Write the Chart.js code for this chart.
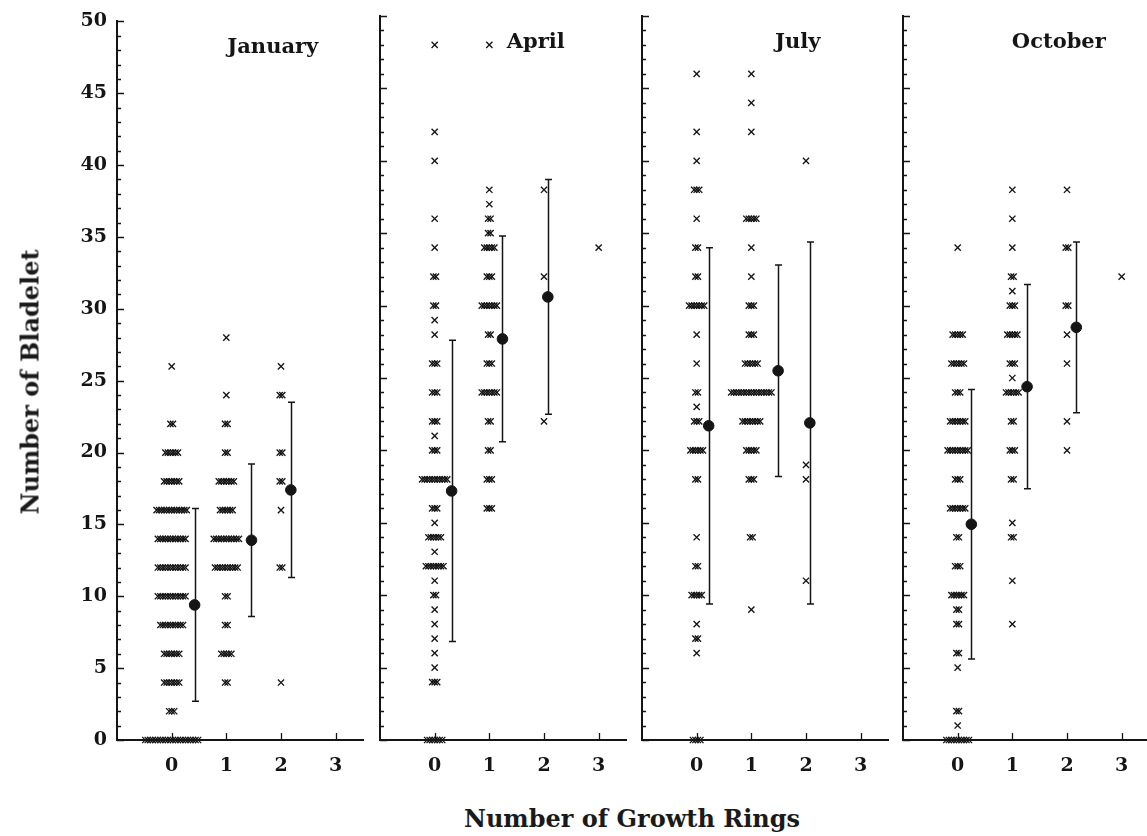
<!DOCTYPE html>
<html>
<head>
<meta charset="utf-8">
<script src="https://cdn.jsdelivr.net/npm/chart.js@4.4.0/dist/chart.umd.min.js"></script>
<style>
    html, body { margin: 0; padding: 0; background: #fff; overflow: hidden; }
    #fig { position: relative; width: 1147px; height: 836px; font-family: "DejaVu Serif", serif; font-weight: bold; color: #1a1a1a; }
    #fig canvas { position: absolute; top: 0; }
    .ytitle { position: absolute; left: 30px; top: 382px; transform: translate(-50%, -50%) rotate(-90deg); white-space: nowrap; font-size: 24px; }
    .xtitle { position: absolute; left: 632px; top: 818px; transform: translate(-50%, -50%); white-space: nowrap; font-size: 24px; }
</style>
</head>
<body>
<div id="fig">
    <canvas id="c0"></canvas>
    <canvas id="c1"></canvas>
    <canvas id="c2"></canvas>
    <canvas id="c3"></canvas>
    <div class="ytitle">Number of Bladelet</div>
    <div class="xtitle">Number of Growth Rings</div>
</div>
<script>
// Panels and ticks
const MONTHS = ["January", "April", "July", "October"];
const X_TICKS = [0, 1, 2, 3];
const Y_TICKS = [0, 5, 10, 15, 20, 25, 30, 35, 40, 45, 50];

// Rows per growth-ring group: [number of bladelets, number of specimens]
const janRing0 = [[26,1],[22,2],[20,6],[18,7],[16,13],[14,12],[12,12],[10,12],[8,10],[6,7],[4,7],[2,3],[0,22]];
const janRing1 = [[28,1],[24,1],[22,2],[20,2],[18,7],[16,6],[14,11],[12,10],[10,2],[8,2],[6,5],[4,2]];
const janRing2 = [[26,1],[24,2],[20,2],[18,2],[16,1],[12,2],[4,1]];
const janRing3 = [];

const aprRing0 = [[48,1],[42,1],[40,1],[36,1],[34,1],[32,2],[30,2],[29,1],[28,1],[26,3],[24,3],[22,3],[21,1],[20,3],[18,11],[16,3],[15,1],[14,6],[13,1],[12,8],[11,1],[10,2],[9,1],[8,1],[7,1],[6,1],[5,1],[4,3],[0,7]];
const aprRing1 = [[48,1],[38,1],[37,1],[36,2],[35,2],[34,5],[32,3],[30,7],[28,2],[26,3],[24,7],[22,2],[20,2],[18,3],[16,3]];
const aprRing2 = [[38,1],[32,1],[22,1]];
const aprRing3 = [[34,1]];

const julRing0 = [[46,1],[42,1],[40,1],[38,3],[36,1],[34,2],[32,2],[30,7],[28,1],[26,1],[24,2],[23,1],[22,3],[20,6],[18,2],[14,1],[12,2],[10,5],[8,1],[7,2],[6,1],[0,4]];
const julRing1 = [[46,1],[44,1],[42,1],[36,5],[34,1],[32,1],[30,3],[28,3],[26,6],[24,17],[22,8],[20,5],[18,3],[14,2],[9,1]];
const julRing2 = [[40,1],[19,1],[18,1],[11,1]];
const julRing3 = [];

const octRing0 = [[34,1],[28,5],[26,6],[24,3],[22,7],[20,9],[18,3],[16,7],[14,2],[12,3],[10,6],[9,2],[8,2],[6,2],[5,1],[2,2],[1,1],[0,10]];
const octRing1 = [[38,1],[36,1],[34,1],[32,2],[31,1],[30,3],[28,5],[26,3],[25,1],[24,6],[22,2],[20,3],[18,2],[15,1],[14,2],[11,1],[8,1]];
const octRing2 = [[38,1],[34,2],[30,2],[28,1],[26,1],[22,1],[20,1]];
const octRing3 = [[32,1]];

// Means, standard deviations and where the mean marker sits on the x axis
const janMean = [9.4, 13.9, 17.4];
const janSD = [6.7, 5.3, 6.1];
const janMeanX = [0.42, 1.46, 2.18];

const aprMean = [17.2, 27.7, 30.6];
const aprSD = [10.4, 7.1, 8.1];
const aprMeanX = [0.31, 1.24, 2.07];

const julMean = [21.7, 25.5, 21.9];
const julSD = [12.3, 7.3, 12.5];
const julMeanX = [0.22, 1.49, 2.07];

const octMean = [14.9, 24.4, 28.5];
const octSD = [9.3, 7.05, 5.9];
const octMeanX = [0.25, 1.27, 2.17];

const panels = [
    { rings: [janRing0, janRing1, janRing2, janRing3], mean: janMean, sd: janSD, meanX: janMeanX },
    { rings: [aprRing0, aprRing1, aprRing2, aprRing3], mean: aprMean, sd: aprSD, meanX: aprMeanX },
    { rings: [julRing0, julRing1, julRing2, julRing3], mean: julMean, sd: julSD, meanX: julMeanX },
    { rings: [octRing0, octRing1, octRing2, octRing3], mean: octMean, sd: octSD, meanX: octMeanX },
];

// Layout
const AXIS_LEFT = [117, 380, 642, 903];
const PLOT_W = 246;
const CANVAS_H = 800;
const X_AXIS_H = 60;
const TOP_PAD = 16;
const JITTER = 0.046;   // horizontal spacing of stacked crosses, in x units
const INK = "#151515";
const FONT = "'DejaVu Serif', serif";

function spreadRows(rows, ring) {
    const pts = [];
    rows.forEach(([value, count]) => {
        for (let i = 0; i < count; i++) {
            pts.push({ x: ring + (i - (count - 1) / 2) * JITTER, y: value });
        }
    });
    return pts;
}

// Inward tick marks on both axes
const tickPlugin = {
    id: "innerTicks",
    afterDraw(chart) {
        const { ctx, chartArea, scales } = chart;
        ctx.save();
        ctx.strokeStyle = INK;
        ctx.lineWidth = 1.3;
        ctx.beginPath();
        for (let v = 0; v <= 50; v++) {
            const y = Math.round(scales.y.getPixelForValue(v)) + 0.5;
            const len = v % 5 === 0 ? 7 : 4;
            ctx.moveTo(chartArea.left, y);
            ctx.lineTo(chartArea.left + len, y);
        }
        X_TICKS.forEach(v => {
            const x = Math.round(scales.x.getPixelForValue(v)) + 0.5;
            ctx.moveTo(x, chartArea.bottom);
            ctx.lineTo(x, chartArea.bottom - 7);
        });
        ctx.stroke();
        ctx.restore();
    }
};

// Standard deviation bars under the mean markers
const errorBarPlugin = {
    id: "sdBars",
    beforeDatasetsDraw(chart, args, opts) {
        const { ctx, scales } = chart;
        const p = opts.panel;
        ctx.save();
        ctx.strokeStyle = INK;
        ctx.lineWidth = 1.5;
        p.mean.forEach((m, j) => {
            const x = Math.round(scales.x.getPixelForValue(p.meanX[j])) + 0.5;
            const yTop = scales.y.getPixelForValue(m + p.sd[j]);
            const yBot = scales.y.getPixelForValue(m - p.sd[j]);
            ctx.beginPath();
            ctx.moveTo(x, yTop);
            ctx.lineTo(x, yBot);
            ctx.moveTo(x - 3.5, yTop);
            ctx.lineTo(x + 3.5, yTop);
            ctx.moveTo(x - 3.5, yBot);
            ctx.lineTo(x + 3.5, yBot);
            ctx.stroke();
        });
        ctx.restore();
    }
};

// Month label inside each panel
const titlePlugin = {
    id: "monthTitle",
    afterDraw(chart, args, opts) {
        const { ctx, scales } = chart;
        ctx.save();
        ctx.fillStyle = INK;
        ctx.font = "bold 21px " + FONT;
        ctx.textAlign = "center";
        ctx.textBaseline = "middle";
        ctx.fillText(opts.text, scales.x.getPixelForValue(1.85), scales.y.getPixelForValue(48.2));
        ctx.restore();
    }
};

panels.forEach((panel, i) => {
    const leftPad = i === 0 ? AXIS_LEFT[0] : 12;
    const canvas = document.getElementById("c" + i);
    const w = leftPad + PLOT_W + 14;
    canvas.width = w;
    canvas.height = CANVAS_H;
    canvas.style.width = w + "px";
    canvas.style.height = CANVAS_H + "px";
    canvas.style.left = (AXIS_LEFT[i] - leftPad) + "px";

    const crossSets = panel.rings.map((rows, ring) => ({
        data: spreadRows(rows, ring),
        pointStyle: "crossRot",
        pointRadius: 4.4,
        pointBorderWidth: 1.35,
        borderColor: INK,
        backgroundColor: INK,
        showLine: false,
        clip: false,
    }));
    const meanSet = {
        data: panel.mean.map((m, j) => ({ x: panel.meanX[j], y: m })),
        pointStyle: "circle",
        pointRadius: 5.3,
        pointBorderWidth: 1,
        borderColor: INK,
        backgroundColor: INK,
        showLine: false,
        clip: false,
    };

    new Chart(canvas.getContext("2d"), {
        type: "scatter",
        data: { datasets: [...crossSets, meanSet] },
        options: {
            responsive: false,
            animation: false,
            devicePixelRatio: 1,
            events: [],
            layout: { padding: { top: TOP_PAD, right: 14, left: 0, bottom: 0 } },
            plugins: {
                legend: { display: false },
                tooltip: { enabled: false },
                sdBars: { panel: panel },
                monthTitle: { text: MONTHS[i] },
            },
            scales: {
                x: {
                    type: "linear",
                    min: -1,
                    max: 3.5,
                    afterBuildTicks: s => { s.ticks = X_TICKS.map(v => ({ value: v })); },
                    afterFit: s => { s.height = X_AXIS_H; },
                    grid: { display: false, drawTicks: false },
                    border: { display: true, color: INK, width: 2 },
                    ticks: { color: INK, font: { family: FONT, size: 19, weight: "bold" }, padding: 15, autoSkip: false, maxRotation: 0 },
                },
                y: {
                    type: "linear",
                    min: 0,
                    max: 50,
                    afterBuildTicks: s => { s.ticks = Y_TICKS.map(v => ({ value: v })); },
                    afterFit: s => { s.width = leftPad; },
                    grid: { display: false, drawTicks: false },
                    border: { display: true, color: INK, width: 2 },
                    ticks: { display: i === 0, color: INK, font: { family: FONT, size: 19, weight: "bold" }, padding: 10, autoSkip: false },
                },
            },
        },
        plugins: [tickPlugin, errorBarPlugin, titlePlugin],
    });
});
</script>
</body>
</html>
